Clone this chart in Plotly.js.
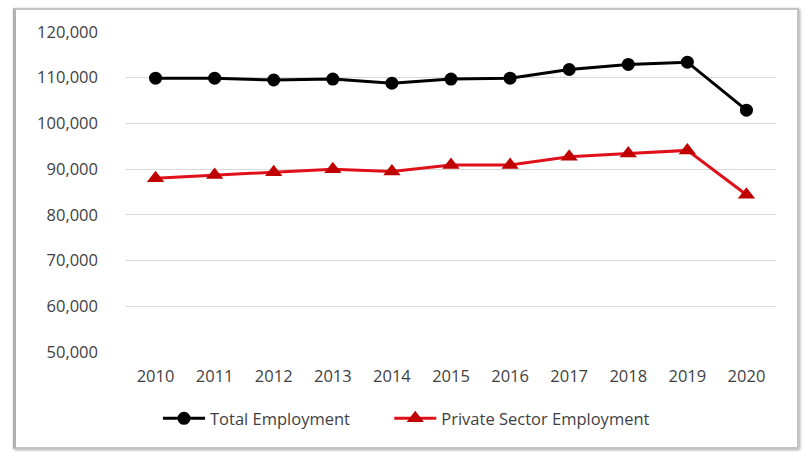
<!DOCTYPE html>
<html>
<head>
<meta charset="utf-8">
<script src="https://cdn.plot.ly/plotly-3.0.1.min.js"></script>
<style>
  html, body { margin: 0; padding: 0; background: #ffffff; width: 806px; height: 452px; overflow: hidden; }
  #frame { position: absolute; left: 13px; top: 8px; width: 786px; height: 441px; box-sizing: border-box;
           border: 2px solid #c4c4c4; border-left: 3px solid #b0b0b0; box-shadow: 1px 1px 3px rgba(0,0,0,0.35); background: #fff; }
  #chart { position: absolute; left: 0; top: 0; width: 781px; height: 437px; }
</style>
</head>
<body>
<div id="frame"><div id="chart"></div></div>
<script>
const years = ["2010","2011","2012","2013","2014","2015","2016","2017","2018","2019","2020"];
const totalEmployment = [109900, 109900, 109500, 109700, 108800, 109700, 109900, 111800, 112900, 113400, 102900];
const privateEmployment = [88000, 88700, 89300, 90000, 89500, 90900, 90900, 92700, 93400, 94100, 84400];
const yTicks = [50000, 60000, 70000, 80000, 90000, 100000, 110000, 120000];
const seriesNames = ["Total Employment", "Private Sector Employment"];

const textColor = "#3f3f3f";
const fontFamily = "'Open Sans', 'Noto Sans', sans-serif";
const legendPad = "\u00a0".repeat(8);

const traces = [
  {
    x: years, y: totalEmployment, name: seriesNames[0] + legendPad, type: "scatter", mode: "lines+markers",
    line: { color: "#000000", width: 3 },
    marker: { symbol: "circle", size: 13, color: "#000000" },
    cliponaxis: false
  },
  {
    x: years, y: privateEmployment, name: seriesNames[1], type: "scatter", mode: "lines+markers",
    line: { color: "#e0101a", width: 3 },
    marker: { symbol: "triangle-up", size: 15, color: "#c00000" },
    cliponaxis: false
  }
];

const layout = {
  width: 781, height: 437,
  margin: { l: 110, r: 21, t: 22, b: 95 },
  paper_bgcolor: "#ffffff", plot_bgcolor: "#ffffff",
  font: { family: fontFamily, size: 16.5, color: textColor },
  showlegend: true,
  xaxis: {
    type: "category",
    range: [-0.5, years.length - 0.5],
    autorange: false,
    showgrid: false, showline: false, zeroline: false, ticks: "",
    ticklabelstandoff: 12,
    tickfont: { family: fontFamily, size: 16.5, color: textColor }
  },
  yaxis: {
    range: [50000, 120000],
    autorange: false,
    tickvals: yTicks,
    tickformat: ",d",
    showgrid: true, gridcolor: "#d9d9d9", gridwidth: 1,
    showline: false, zeroline: false, ticks: "",
    ticklabelstandoff: 27,
    tickfont: { family: fontFamily, size: 16.5, color: textColor }
  },
  legend: {
    orientation: "h", xref: "container", yref: "container",
    x: 0.5, xanchor: "center", y: 0.065, yanchor: "middle",
    font: { family: fontFamily, size: 16.5, color: textColor },
    itemwidth: 42, tracegroupgap: 0
  }
};

Plotly.newPlot("chart", traces, layout, { displayModeBar: false, staticPlot: true });
</script>
</body>
</html>
